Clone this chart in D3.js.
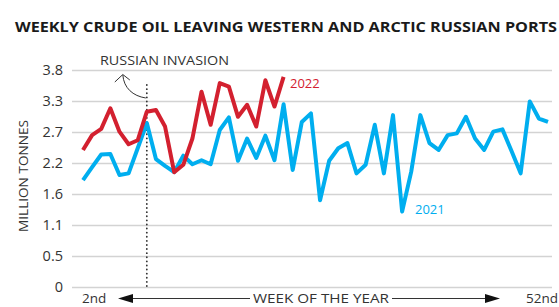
<!DOCTYPE html>
<html>
<head>
<meta charset="utf-8">
<script src="https://cdn.jsdelivr.net/npm/d3@7"></script>
<style>
  body { margin: 0; background: #fff; }
  svg { display: block; font-family: "Open Sans", "Noto Sans", sans-serif; }
</style>
</head>
<body>
<div class="chart"></div>
<script>
// weekly crude leaving western + arctic russian ports, million tonnes
var oil2021 = [1.87, 2.10, 2.32, 2.33, 1.96, 1.99, 2.43, 2.87, 2.24, 2.12,
  2.01, 2.30, 2.15, 2.22, 2.15, 2.75, 2.97, 2.21, 2.60, 2.26,
  2.65, 2.22, 3.20, 2.05, 2.89, 3.04, 1.52, 2.21, 2.43, 2.52,
  1.99, 2.14, 2.84, 1.99, 3.01, 1.32, 2.02, 3.01, 2.52, 2.40,
  2.66, 2.69, 2.98, 2.60, 2.40, 2.72, 2.76, 2.38, 1.99, 3.25,
  2.95, 2.89];
var oil2022 = [2.40, 2.66, 2.77, 3.13, 2.72, 2.50, 2.57, 3.07, 3.10, 2.81,
  2.01, 2.14, 2.60, 3.42, 2.84, 3.57, 3.51, 2.98, 3.19, 2.81,
  3.62, 3.16, 3.68];
var yTicks = [0, 0.543, 1.086, 1.629, 2.171, 2.714, 3.257, 3.8];
var yTickLabels = ["0", "0.5", "1.1", "1.6", "2.2", "2.7", "3.3", "3.8"];
var invasionWeek = 7; // index into the week list
var firstWeekLabel = "2nd", lastWeekLabel = "52nd";

var width = 559, height = 307;
var blue = "#00aeef", red = "#d3202f", ink = "#333";

var svg = d3.select(".chart").append("svg")
  .attr("width", width)
  .attr("height", height);

var x = d3.scaleLinear().domain([0, oil2021.length - 1]).range([83, 548]);
var y = d3.scaleLinear().domain([0, 3.8]).range([287, 70]);

// title
svg.append("text")
  .attr("x", 15).attr("y", 32)
  .attr("font-size", 15).attr("font-weight", "bold")
  .attr("fill", "#1a1a1a")
  .attr("textLength", 542).attr("lengthAdjust", "spacingAndGlyphs")
  .text("WEEKLY CRUDE OIL LEAVING WESTERN AND ARCTIC RUSSIAN PORTS");

// y axis + gridlines
var yAxis = d3.axisLeft(y)
  .tickValues(yTicks)
  .tickFormat(function(d, i) { return yTickLabels[i]; })
  .tickSize(-(552 - 72))
  .tickPadding(9);

var gy = svg.append("g")
  .attr("transform", "translate(72,0)")
  .call(yAxis);
gy.select(".domain").remove();
gy.selectAll(".tick line").attr("stroke", "#d3d3d3").attr("stroke-width", 1.4);
gy.selectAll(".tick text")
  .attr("font-size", 14.5)
  .attr("fill", ink)
  .attr("font-family", "Open Sans, sans-serif");

svg.append("text")
  .attr("transform", "translate(28,176) rotate(-90)")
  .attr("text-anchor", "middle")
  .attr("font-size", 12)
  .attr("fill", ink)
  .attr("textLength", 112).attr("lengthAdjust", "spacingAndGlyphs")
  .text("MILLION TONNES");

// invasion marker
svg.append("line")
  .attr("x1", x(invasionWeek)).attr("x2", x(invasionWeek))
  .attr("y1", 85).attr("y2", y(0))
  .attr("stroke", ink)
  .attr("stroke-width", 1.8)
  .attr("stroke-linecap", "round")
  .attr("stroke-dasharray", "0.1,4");

svg.append("text")
  .attr("x", 100).attr("y", 65)
  .attr("font-size", 13)
  .attr("fill", ink)
  .attr("textLength", 129).attr("lengthAdjust", "spacingAndGlyphs")
  .text("RUSSIAN INVASION");

var ax = x(invasionWeek);
svg.append("path")
  .attr("d", "M" + (ax - 1) + ",98 C" + (ax - 14) + ",96 " + (ax - 23) + ",88 " + (ax - 24) + ",75")
  .attr("fill", "none").attr("stroke", ink).attr("stroke-width", 1);
svg.append("path")
  .attr("d", "M" + (ax - 32) + ",82 L" + (ax - 24) + ",74.5 L" + (ax - 17) + ",80")
  .attr("fill", "none").attr("stroke", ink).attr("stroke-width", 1);

// lines
var line = d3.line()
  .x(function(d, i) { return x(i); })
  .y(function(d) { return y(d); });

svg.append("path")
  .datum(oil2021)
  .attr("d", line)
  .attr("fill", "none")
  .attr("stroke", blue)
  .attr("stroke-width", 4)
  .attr("stroke-linejoin", "round");

svg.append("path")
  .datum(oil2022)
  .attr("d", line)
  .attr("fill", "none")
  .attr("stroke", red)
  .attr("stroke-width", 4)
  .attr("stroke-linejoin", "round");

svg.append("text")
  .attr("x", 290).attr("y", 88)
  .attr("font-size", 13).attr("fill", red)
  .text("2022");

svg.append("text")
  .attr("x", 415).attr("y", 214)
  .attr("font-size", 13).attr("fill", blue)
  .text("2021");

// bottom week axis (kept just inside the frame)
var by = 298.5, baseY = 303;
svg.append("text")
  .attr("x", 82).attr("y", baseY)
  .attr("font-size", 13.5).attr("fill", ink)
  .text(firstWeekLabel);
svg.append("text")
  .attr("x", 558).attr("y", baseY)
  .attr("text-anchor", "end")
  .attr("font-size", 13.5).attr("fill", ink)
  .text(lastWeekLabel);
svg.append("text")
  .attr("x", 321).attr("y", baseY)
  .attr("text-anchor", "middle")
  .attr("font-size", 12.5).attr("fill", ink)
  .attr("textLength", 136).attr("lengthAdjust", "spacingAndGlyphs")
  .text("WEEK OF THE YEAR");

svg.append("line")
  .attr("x1", 128).attr("x2", 250).attr("y1", by).attr("y2", by)
  .attr("stroke", ink).attr("stroke-width", 1);
svg.append("line")
  .attr("x1", 392).attr("x2", 490).attr("y1", by).attr("y2", by)
  .attr("stroke", ink).attr("stroke-width", 1);
svg.append("path")
  .attr("d", "M118," + by + " L133," + (by - 4.5) + " L133," + (by + 4.5) + " Z")
  .attr("fill", "#111");
svg.append("path")
  .attr("d", "M500," + by + " L485," + (by - 4.5) + " L485," + (by + 4.5) + " Z")
  .attr("fill", "#111");
</script>
</body>
</html>
